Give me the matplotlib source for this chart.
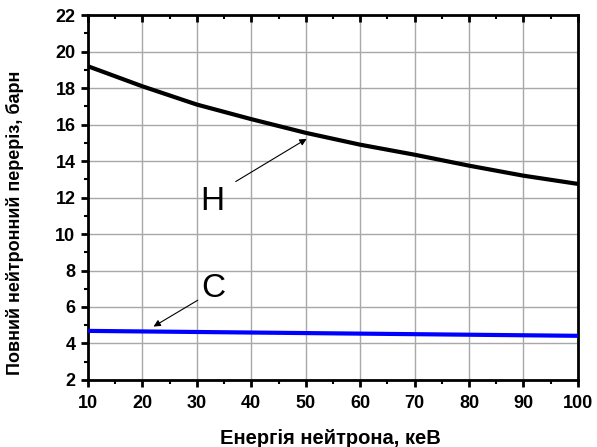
import matplotlib.pyplot as plt
from matplotlib.ticker import MultipleLocator

plt.rcParams["font.family"] = ["Liberation Sans", "DejaVu Sans"]

# Energy grid, keV
energy = [10, 20, 30, 40, 50, 60, 70, 80, 90, 100]
# Total neutron cross-section, barn
sigma_h = [19.2, 18.1, 17.1, 16.3, 15.55, 14.9, 14.35, 13.75, 13.2, 12.75]
sigma_c = [4.69, 4.66, 4.63, 4.60, 4.57, 4.54, 4.51, 4.48, 4.45, 4.42]

fig = plt.figure(figsize=(5.97, 4.47), dpi=100)
ax = fig.add_axes([0.1474, 0.150, 0.8206, 0.816])

ax.plot(energy, sigma_h, color="black", linewidth=3, zorder=3)
ax.plot(energy, sigma_c, color="#0000ff", linewidth=3, zorder=3)

ax.set_xlim(10, 100)
ax.set_ylim(2, 22)
ax.xaxis.set_major_locator(MultipleLocator(10))
ax.xaxis.set_minor_locator(MultipleLocator(5))
ax.yaxis.set_major_locator(MultipleLocator(2))
ax.yaxis.set_minor_locator(MultipleLocator(1))

ax.grid(True, which="major", color="#a8a8a8", linewidth=1)
ax.set_axisbelow(True)

for sp in ax.spines.values():
    sp.set_linewidth(2)

# bottom/left ticks point out, top ticks point in, no right ticks
ax.tick_params(which="major", direction="out", length=5, width=2,
               labelsize=13, pad=4, right=False)
ax.tick_params(which="minor", direction="out", length=3, width=1.5, right=False)
ax.tick_params(axis="x", which="major", pad=6)
top = ax.twiny()
top.set_xlim(ax.get_xlim())
top.xaxis.set_major_locator(MultipleLocator(10))
top.xaxis.set_minor_locator(MultipleLocator(5))
top.tick_params(which="major", direction="in", length=5, width=2, labeltop=False)
top.tick_params(which="minor", direction="in", length=3, width=1.5)
for sp in top.spines.values():
    sp.set_visible(False)

for lbl in ax.get_xticklabels() + ax.get_yticklabels():
    lbl.set_fontweight("bold")

ax.set_xlabel("Енергія нейтрона, кеВ", fontsize=14.5, fontweight="bold")
ax.set_ylabel("Повний нейтронний переріз, барн", fontsize=13, fontweight="bold")
ax.xaxis.set_label_coords(0.494, -0.135)
ax.yaxis.set_label_coords(-0.131, 0.43)

ax.annotate("", xy=(50.6, 15.3), xytext=(36.7, 12.8),
            arrowprops=dict(arrowstyle="-|>", color="black", lw=0.8, mutation_scale=10))
ax.text(32.8, 11.8, "H", fontsize=24, ha="center", va="center")

ax.annotate("", xy=(21.6, 4.85), xytext=(30.6, 6.45),
            arrowprops=dict(arrowstyle="-|>", color="black", lw=0.8, mutation_scale=10))
ax.text(33.0, 7.0, "C", fontsize=24, ha="center", va="center")

fig.savefig("out.png", dpi=100)
